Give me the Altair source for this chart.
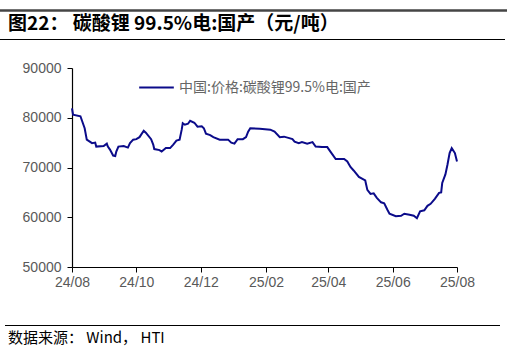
import altair as alt
import pandas as pd

dates = [
    "2024-08-01", "2024-08-02", "2024-08-09", "2024-08-13", "2024-08-15", "2024-08-20",
    "2024-08-23", "2024-08-24", "2024-08-31", "2024-09-03", "2024-09-04", "2024-09-06",
    "2024-09-09", "2024-09-11", "2024-09-12", "2024-09-14", "2024-09-19", "2024-09-23",
    "2024-09-25", "2024-09-28", "2024-10-01", "2024-10-04", "2024-10-08", "2024-10-10",
    "2024-10-15", "2024-10-17", "2024-10-18", "2024-10-23", "2024-10-25", "2024-10-29",
    "2024-11-02", "2024-11-05", "2024-11-08", "2024-11-11", "2024-11-13", "2024-11-14",
    "2024-11-16", "2024-11-19", "2024-11-21", "2024-11-25", "2024-11-28", "2024-12-02",
    "2024-12-04", "2024-12-06", "2024-12-10", "2024-12-13", "2024-12-19", "2024-12-27",
    "2024-12-30", "2025-01-02", "2025-01-05", "2025-01-10", "2025-01-13", "2025-01-15",
    "2025-01-17", "2025-01-26", "2025-02-05", "2025-02-09", "2025-02-14", "2025-02-18",
    "2025-02-23", "2025-02-26", "2025-02-28", "2025-03-04", "2025-03-07", "2025-03-12",
    "2025-03-17", "2025-03-20", "2025-03-26", "2025-03-31", "2025-04-03", "2025-04-08",
    "2025-04-16", "2025-04-19", "2025-04-22", "2025-04-25", "2025-04-30", "2025-05-06",
    "2025-05-08", "2025-05-11", "2025-05-14", "2025-05-17", "2025-05-21", "2025-05-24",
    "2025-05-27", "2025-05-29", "2025-06-04", "2025-06-09", "2025-06-12", "2025-06-17",
    "2025-06-21", "2025-06-24", "2025-06-27", "2025-07-01", "2025-07-04", "2025-07-07",
    "2025-07-11", "2025-07-15", "2025-07-17", "2025-07-18", "2025-07-21", "2025-07-23",
    "2025-07-25", "2025-07-27", "2025-07-30", "2025-08-01",
]
prices = [
    81900, 80600, 80300, 77900, 75600, 74900,
    75000, 74200, 74300, 74800, 74200, 73600,
    72400, 72300, 73200, 74200, 74300, 74000,
    74900, 75600, 75700, 76100, 77400, 77000,
    75700, 74600, 73700, 73500, 73200, 73900,
    73900, 74600, 75400, 75600, 77600, 78900,
    78600, 78800, 79400, 79000, 78200, 78300,
    77900, 76800, 76500, 76100, 75600, 75600,
    75000, 74800, 75700, 75700, 76100, 77200,
    77900, 77800, 77600, 77200, 76100, 76200,
    75900, 75700, 75200, 74900, 75100, 74800,
    75100, 74200, 74100, 74100, 73200, 71700,
    71700, 71200, 70100, 69400, 68100, 67400,
    65500, 64700, 64800, 63900, 63000, 62800,
    61500, 60700, 60200, 60300, 60700, 60500,
    60300, 59800, 61200, 61400, 62300, 62700,
    63700, 64900, 65000, 66900, 68600, 70600,
    72900, 73900, 72900, 71200,
]
series_name = "中国:价格:碳酸锂99.5%电:国产"
title_text = "图22：  碳酸锂 99.5%电:国产（元/吨）"
source_text = "数据来源：  Wind， HTI"
y_ticks = [50000, 60000, 70000, 80000, 90000]
x_tick_months = [(2024, 8), (2024, 10), (2024, 12), (2025, 2), (2025, 4), (2025, 6), (2025, 8)]

df = pd.DataFrame({"date": dates, "price": prices, "series": series_name})

W, H = 385, 199
CJK = "Noto Sans CJK SC"
LAT = "Liberation Sans"

x_vals = [alt.DateTime(year=y, month=m, date=1, utc=True) for y, m in x_tick_months]

line = alt.Chart(df).mark_line(strokeWidth=2, clip=False).encode(
    x=alt.X("date:T",
            scale=alt.Scale(type="utc",
                            domain=[alt.DateTime(year=2024, month=8, date=1, utc=True),
                                    alt.DateTime(year=2025, month=8, date=1, utc=True)]),
            axis=alt.Axis(values=x_vals, format="%y/%m", title=None, grid=False,
                          tickSize=5, labelPadding=3, labelFlush=False)),
    y=alt.Y("price:Q", scale=alt.Scale(domain=[50000, 90000], nice=False, zero=False),
            axis=alt.Axis(values=y_ticks, format="d", title=None, grid=False,
                          tickSize=5, labelPadding=6)),
    color=alt.Color("series:N",
                    scale=alt.Scale(domain=[series_name], range=["#0b0b8a"]),
                    legend=alt.Legend(title=None, orient="none", legendX=66, legendY=1,
                                      symbolType="stroke", symbolSize=1200,
                                      symbolStrokeWidth=2, labelFont=CJK,
                                      labelFontSize=14, labelColor="#666666",
                                      labelLimit=400)),
)

deco = pd.DataFrame({"k": [0]})
top_rule = alt.Chart(deco).mark_rule(color="#454545", strokeWidth=2.5).encode(
    x=alt.value(-72), x2=alt.value(435), y=alt.value(-57.5))
under_rule = alt.Chart(deco).mark_rule(color="#000000", strokeWidth=1.2).encode(
    x=alt.value(-72), x2=alt.value(433), y=alt.value(-28.5))
bottom_rule = alt.Chart(deco).mark_rule(color="#000000", strokeWidth=1).encode(
    x=alt.value(-67), x2=alt.value(428), y=alt.value(257.5))

title = alt.Chart(pd.DataFrame({"t": [title_text]})).mark_text(
    align="left", baseline="middle", font=CJK, fontSize=19, fontWeight="bold",
    color="#000000").encode(x=alt.value(-64), y=alt.value(-44), text="t:N")
source = alt.Chart(pd.DataFrame({"t": [source_text]})).mark_text(
    align="left", baseline="middle", font=CJK, fontSize=15, color="#000000").encode(
    x=alt.value(-64), y=alt.value(270), text="t:N")

chart = alt.layer(line, top_rule, under_rule, bottom_rule, title, source).properties(
    width=W, height=H,
    autosize=alt.AutoSizeParams(type="none"),
    padding={"left": 72, "top": 68, "right": 55, "bottom": 84},
    background="white",
).configure_view(stroke=None).configure_axis(
    domainColor="#000000", tickColor="#000000", labelColor="#595959",
    labelFont=LAT, labelFontSize=14, domainWidth=1.2,
)

chart.save("out.html", embed_options={"renderer": "svg", "actions": False})
